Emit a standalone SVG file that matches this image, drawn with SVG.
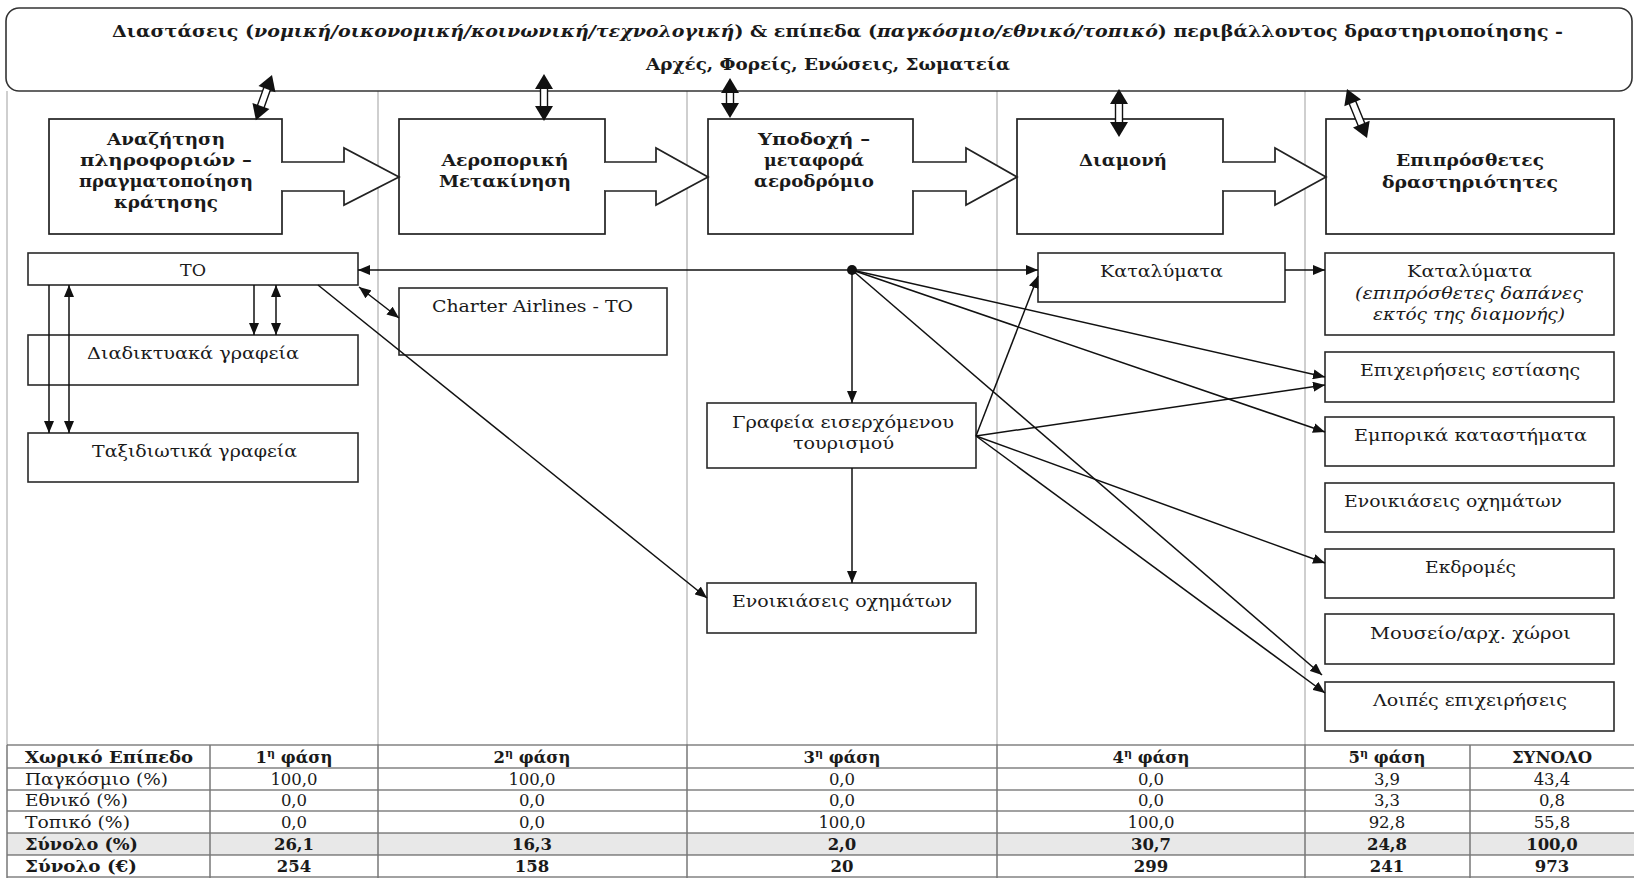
<svg xmlns="http://www.w3.org/2000/svg" width="1634" height="878" viewBox="0 0 1634 878">
<style>
.bx{fill:#fff;stroke:#2a2a2a;stroke-width:1.6}
.pb{fill:#fff;stroke:#222;stroke-width:1.7}
.col{stroke:#cfcfcf;stroke-width:2}
.t{font-family:"DejaVu Serif","Liberation Serif",serif;font-size:16px;fill:#1a1a1a}
.b{font-family:"DejaVu Serif","Liberation Serif",serif;font-size:17px;font-weight:bold;fill:#1a1a1a}
.tb{font-family:"DejaVu Serif","Liberation Serif",serif;font-size:16.5px;fill:#1a1a1a}
.tbb{font-family:"DejaVu Serif","Liberation Serif",serif;font-size:16.5px;font-weight:bold;fill:#1a1a1a}
.c{stroke:#111;stroke-width:1.5;fill:none}
.hl{stroke:#444;stroke-width:1.2}
.vl{stroke:#777;stroke-width:1.5}
</style>
<defs>
<marker id="ah" viewBox="0 0 12 10" refX="12" refY="5" markerWidth="12" markerHeight="10" markerUnits="userSpaceOnUse" orient="auto-start-reverse"><path d="M0,0 L12,5 L0,10 z" fill="#111"/></marker>
</defs>

<!-- column separators -->
<g id="columns">
<line class="col" x1="7" y1="91" x2="7" y2="745"/>
<line class="col" x1="378" y1="91" x2="378" y2="745"/>
<line class="col" x1="687" y1="91" x2="687" y2="745"/>
<line class="col" x1="997" y1="91" x2="997" y2="745"/>
<line class="col" x1="1305" y1="91" x2="1305" y2="745"/>
</g>

<g id="environment">
<rect x="6" y="8" width="1626" height="83" rx="13" fill="#fff" stroke="#333" stroke-width="1.6"/>
<text class="b" font-size="16" x="112" y="37" textLength="1451" lengthAdjust="spacingAndGlyphs">Διαστάσεις (<tspan font-style="italic">νομική/οικονομική/κοινωνική/τεχνολογική</tspan>) &amp; επίπεδα (<tspan font-style="italic">παγκόσμιο/εθνικό/τοπικό</tspan>) περιβάλλοντος δραστηριοποίησης  -</text>
<text class="b" font-size="16" x="646" y="70" textLength="364" lengthAdjust="spacingAndGlyphs">Αρχές, Φορείς, Ενώσεις, Σωματεία</text>
</g>

<!-- phase boxes -->
<g id="phase1"><rect class="pb" x="49" y="119" width="233" height="115"/>
<text class="b" text-anchor="middle" x="166" y="145" textLength="118" lengthAdjust="spacingAndGlyphs">Αναζήτηση</text>
<text class="b" text-anchor="middle" x="166" y="166" textLength="172" lengthAdjust="spacingAndGlyphs">πληροφοριών –</text>
<text class="b" text-anchor="middle" x="166" y="187" textLength="174" lengthAdjust="spacingAndGlyphs">πραγματοποίηση</text>
<text class="b" text-anchor="middle" x="166" y="208" textLength="104" lengthAdjust="spacingAndGlyphs">κράτησης</text>
</g>
<g id="phase2"><rect class="pb" x="399" y="119" width="206" height="115"/>
<text class="b" text-anchor="middle" x="505" y="166" textLength="127" lengthAdjust="spacingAndGlyphs">Αεροπορική</text>
<text class="b" text-anchor="middle" x="505" y="187" textLength="132" lengthAdjust="spacingAndGlyphs">Μετακίνηση</text>
</g>
<g id="phase3"><rect class="pb" x="708" y="119" width="205" height="115"/>
<text class="b" text-anchor="middle" x="814" y="145" textLength="112" lengthAdjust="spacingAndGlyphs">Υποδοχή –</text>
<text class="b" text-anchor="middle" x="814" y="166" textLength="100" lengthAdjust="spacingAndGlyphs">μεταφορά</text>
<text class="b" text-anchor="middle" x="814" y="187" textLength="120" lengthAdjust="spacingAndGlyphs">αεροδρόμιο</text>
</g>
<g id="phase4"><rect class="pb" x="1017" y="119" width="206" height="115"/>
<text class="b" text-anchor="middle" x="1123" y="166" textLength="88" lengthAdjust="spacingAndGlyphs">Διαμονή</text>
</g>
<g id="phase5"><rect class="pb" x="1326" y="119" width="288" height="115"/>
<text class="b" text-anchor="middle" x="1470" y="166" textLength="148" lengthAdjust="spacingAndGlyphs">Επιπρόσθετες</text>
<text class="b" text-anchor="middle" x="1470" y="188" textLength="176" lengthAdjust="spacingAndGlyphs">δραστηριότητες</text>
</g>

<!-- block arrows between phases -->
<g id="flow">
<rect x="280" y="163" width="4" height="27" fill="#fff"/>
<path d="M282,162 H344 V148 L399,177 L344,205 V191 H282" fill="#fff" stroke="#222" stroke-width="1.7"/>
<rect x="603" y="163" width="4" height="27" fill="#fff"/>
<path d="M605,162 H656 V148 L708,177 L656,205 V191 H605" fill="#fff" stroke="#222" stroke-width="1.7"/>
<rect x="911" y="163" width="4" height="27" fill="#fff"/>
<path d="M913,162 H966 V148 L1017,177 L966,205 V191 H913" fill="#fff" stroke="#222" stroke-width="1.7"/>
<rect x="1221" y="163" width="4" height="27" fill="#fff"/>
<path d="M1223,162 H1275 V148 L1326,177 L1275,205 V191 H1223" fill="#fff" stroke="#222" stroke-width="1.7"/>
</g>

<!-- double arrows to environment -->
<g id="env-links">
<g transform="translate(272,75) rotate(109.6)"><rect x="13" y="-3.5" width="22" height="7" fill="#fff" stroke="#111" stroke-width="1.4"/><polygon points="0,0 15,-9 15,9" fill="#111"/><polygon points="48,0 33,-9 33,9" fill="#111"/></g>
<g transform="translate(544,74) rotate(90)"><rect x="13" y="-3.5" width="21" height="7" fill="#fff" stroke="#111" stroke-width="1.4"/><polygon points="0,0 15,-9 15,9" fill="#111"/><polygon points="47,0 32,-9 32,9" fill="#111"/></g>
<g transform="translate(730,78) rotate(90)"><rect x="13" y="-3.5" width="14" height="7" fill="#fff" stroke="#111" stroke-width="1.4"/><polygon points="0,0 15,-9 15,9" fill="#111"/><polygon points="40,0 25,-9 25,9" fill="#111"/></g>
<g transform="translate(1119,89) rotate(90)"><rect x="13" y="-3.5" width="22" height="7" fill="#fff" stroke="#111" stroke-width="1.4"/><polygon points="0,0 15,-9 15,9" fill="#111"/><polygon points="48,0 33,-9 33,9" fill="#111"/></g>
<g transform="translate(1347,89) rotate(67.8)"><rect x="13" y="-3.5" width="27" height="7" fill="#fff" stroke="#111" stroke-width="1.4"/><polygon points="0,0 15,-9 15,9" fill="#111"/><polygon points="53,0 38,-9 38,9" fill="#111"/></g>
</g>

<!-- actor boxes -->
<g id="to"><rect class="bx" x="28" y="253" width="330" height="32"/><text class="t" text-anchor="middle" x="193" y="276" textLength="26" lengthAdjust="spacingAndGlyphs">TO</text></g>
<g id="online"><rect class="bx" x="28" y="335" width="330" height="50"/><text class="t" x="87" y="359" textLength="212" lengthAdjust="spacingAndGlyphs">Διαδικτυακά γραφεία</text></g>
<g id="agencies"><rect class="bx" x="28" y="433" width="330" height="49"/><text class="t" x="92" y="457" textLength="205" lengthAdjust="spacingAndGlyphs">Ταξιδιωτικά γραφεία</text></g>
<g id="charter"><rect class="bx" x="399" y="288" width="268" height="67"/><text class="t" x="432" y="312" textLength="201" lengthAdjust="spacingAndGlyphs">Charter Airlines - TO</text></g>
<g id="incoming"><rect class="bx" x="707" y="403" width="269" height="65"/><text class="t" x="732" y="428" textLength="222" lengthAdjust="spacingAndGlyphs">Γραφεία εισερχόμενου</text><text class="t" x="793" y="449" textLength="101" lengthAdjust="spacingAndGlyphs">τουρισμού</text></g>
<g id="rental3"><rect class="bx" x="707" y="583" width="269" height="50"/><text class="t" x="732" y="607" textLength="220" lengthAdjust="spacingAndGlyphs">Ενοικιάσεις οχημάτων</text></g>
<g id="accom4"><rect class="bx" x="1038" y="253" width="247" height="49"/><text class="t" x="1100" y="277" textLength="123" lengthAdjust="spacingAndGlyphs">Καταλύματα</text></g>
<g id="accom5"><rect class="bx" x="1325" y="253" width="289" height="82"/><text class="t" x="1407" y="277" textLength="125" lengthAdjust="spacingAndGlyphs">Καταλύματα</text><text class="t" font-style="italic" x="1355" y="299" textLength="228" lengthAdjust="spacingAndGlyphs">(επιπρόσθετες δαπάνες</text><text class="t" font-style="italic" x="1373" y="320" textLength="192" lengthAdjust="spacingAndGlyphs">εκτός της διαμονής)</text></g>
<g id="food"><rect class="bx" x="1325" y="352" width="289" height="50"/><text class="t" x="1360" y="376" textLength="220" lengthAdjust="spacingAndGlyphs">Επιχειρήσεις εστίασης</text></g>
<g id="shops"><rect class="bx" x="1325" y="417" width="289" height="49"/><text class="t" x="1354" y="441" textLength="233" lengthAdjust="spacingAndGlyphs">Εμπορικά καταστήματα</text></g>
<g id="rental5"><rect class="bx" x="1325" y="483" width="289" height="49"/><text class="t" x="1344" y="507" textLength="218" lengthAdjust="spacingAndGlyphs">Ενοικιάσεις οχημάτων</text></g>
<g id="excursions"><rect class="bx" x="1325" y="549" width="289" height="49"/><text class="t" x="1425" y="573" textLength="91" lengthAdjust="spacingAndGlyphs">Εκδρομές</text></g>
<g id="museum"><rect class="bx" x="1325" y="614" width="289" height="50"/><text class="t" x="1370" y="639" textLength="201" lengthAdjust="spacingAndGlyphs">Μουσείο/αρχ. χώροι</text></g>
<g id="other"><rect class="bx" x="1325" y="682" width="289" height="49"/><text class="t" x="1373" y="706" textLength="194" lengthAdjust="spacingAndGlyphs">Λοιπές επιχειρήσεις</text></g>

<!-- connectors -->
<g id="connectors">
<line class="c" x1="852" y1="270" x2="358" y2="270" marker-end="url(#ah)"/>
<line class="c" x1="852" y1="270" x2="1038" y2="270" marker-end="url(#ah)"/>
<line class="c" x1="852" y1="270" x2="852" y2="403" marker-end="url(#ah)"/>
<line class="c" x1="852" y1="468" x2="852" y2="583" marker-end="url(#ah)"/>
<line class="c" x1="318" y1="285" x2="707" y2="598" marker-end="url(#ah)"/>
<line class="c" x1="254" y1="285" x2="254" y2="335" marker-end="url(#ah)"/>
<line class="c" x1="276" y1="285" x2="276" y2="335" marker-start="url(#ah)" marker-end="url(#ah)"/>
<line class="c" x1="49" y1="285" x2="49" y2="433" marker-end="url(#ah)"/>
<line class="c" x1="69" y1="285" x2="69" y2="433" marker-start="url(#ah)" marker-end="url(#ah)"/>
<line class="c" x1="359" y1="287" x2="399" y2="318" marker-start="url(#ah)" marker-end="url(#ah)"/>
<line class="c" x1="852" y1="270" x2="1325" y2="377" marker-end="url(#ah)"/>
<line class="c" x1="852" y1="270" x2="1325" y2="432" marker-end="url(#ah)"/>
<line class="c" x1="852" y1="270" x2="1322" y2="675" marker-end="url(#ah)"/>
<line class="c" x1="976" y1="436" x2="1038" y2="276" marker-end="url(#ah)"/>
<line class="c" x1="976" y1="436" x2="1325" y2="385" marker-end="url(#ah)"/>
<line class="c" x1="976" y1="436" x2="1325" y2="563" marker-end="url(#ah)"/>
<line class="c" x1="976" y1="436" x2="1325" y2="693" marker-end="url(#ah)"/>
<line class="c" x1="1285" y1="270" x2="1325" y2="270" marker-end="url(#ah)"/>
<circle cx="852" cy="270" r="5" fill="#111"/>
</g>

<!-- table -->
<g id="table">
<rect x="7" y="833" width="1627" height="22" fill="#e8e8e8"/>
<line class="hl" x1="7" y1="745" x2="1634" y2="745" stroke-width="2"/>
<line class="hl" x1="7" y1="768" x2="1634" y2="768"/>
<line class="hl" x1="7" y1="790" x2="1634" y2="790"/>
<line class="hl" x1="7" y1="811" x2="1634" y2="811"/>
<line class="hl" x1="7" y1="833" x2="1634" y2="833"/>
<line class="hl" x1="7" y1="855" x2="1634" y2="855"/>
<line class="hl" x1="7" y1="877" x2="1634" y2="877"/>
<line class="vl" x1="7" y1="745" x2="7" y2="878"/>
<line class="vl" x1="210" y1="745" x2="210" y2="878"/>
<line class="vl" x1="378" y1="745" x2="378" y2="878"/>
<line class="vl" x1="687" y1="745" x2="687" y2="878"/>
<line class="vl" x1="997" y1="745" x2="997" y2="878"/>
<line class="vl" x1="1305" y1="745" x2="1305" y2="878"/>
<line class="vl" x1="1470" y1="745" x2="1470" y2="878"/>

<text class="tbb" x="25" y="763" textLength="168" lengthAdjust="spacingAndGlyphs">Χωρικό Επίπεδο</text>
<text class="tbb" text-anchor="middle" x="294" y="763">1<tspan font-size="11" dy="-6">η</tspan><tspan dy="6"> φάση</tspan></text>
<text class="tbb" text-anchor="middle" x="532" y="763">2<tspan font-size="11" dy="-6">η</tspan><tspan dy="6"> φάση</tspan></text>
<text class="tbb" text-anchor="middle" x="842" y="763">3<tspan font-size="11" dy="-6">η</tspan><tspan dy="6"> φάση</tspan></text>
<text class="tbb" text-anchor="middle" x="1151" y="763">4<tspan font-size="11" dy="-6">η</tspan><tspan dy="6"> φάση</tspan></text>
<text class="tbb" text-anchor="middle" x="1387" y="763">5<tspan font-size="11" dy="-6">η</tspan><tspan dy="6"> φάση</tspan></text>
<text class="tbb" text-anchor="middle" x="1552" y="763">ΣΥΝΟΛΟ</text>

<text class="tb" x="25" y="785" textLength="143" lengthAdjust="spacingAndGlyphs">Παγκόσμιο (%)</text>
<text class="tb" text-anchor="middle" x="294" y="785">100,0</text>
<text class="tb" text-anchor="middle" x="532" y="785">100,0</text>
<text class="tb" text-anchor="middle" x="842" y="785">0,0</text>
<text class="tb" text-anchor="middle" x="1151" y="785">0,0</text>
<text class="tb" text-anchor="middle" x="1387" y="785">3,9</text>
<text class="tb" text-anchor="middle" x="1552" y="785">43,4</text>

<text class="tb" x="25" y="806" textLength="103" lengthAdjust="spacingAndGlyphs">Εθνικό (%)</text>
<text class="tb" text-anchor="middle" x="294" y="806">0,0</text>
<text class="tb" text-anchor="middle" x="532" y="806">0,0</text>
<text class="tb" text-anchor="middle" x="842" y="806">0,0</text>
<text class="tb" text-anchor="middle" x="1151" y="806">0,0</text>
<text class="tb" text-anchor="middle" x="1387" y="806">3,3</text>
<text class="tb" text-anchor="middle" x="1552" y="806">0,8</text>

<text class="tb" x="25" y="828" textLength="105" lengthAdjust="spacingAndGlyphs">Τοπικό (%)</text>
<text class="tb" text-anchor="middle" x="294" y="828">0,0</text>
<text class="tb" text-anchor="middle" x="532" y="828">0,0</text>
<text class="tb" text-anchor="middle" x="842" y="828">100,0</text>
<text class="tb" text-anchor="middle" x="1151" y="828">100,0</text>
<text class="tb" text-anchor="middle" x="1387" y="828">92,8</text>
<text class="tb" text-anchor="middle" x="1552" y="828">55,8</text>

<text class="tbb" x="25" y="850" textLength="113" lengthAdjust="spacingAndGlyphs">Σύνολο (%)</text>
<text class="tbb" text-anchor="middle" x="294" y="850">26,1</text>
<text class="tbb" text-anchor="middle" x="532" y="850">16,3</text>
<text class="tbb" text-anchor="middle" x="842" y="850">2,0</text>
<text class="tbb" text-anchor="middle" x="1151" y="850">30,7</text>
<text class="tbb" text-anchor="middle" x="1387" y="850">24,8</text>
<text class="tbb" text-anchor="middle" x="1552" y="850">100,0</text>

<text class="tbb" x="25" y="872" textLength="112" lengthAdjust="spacingAndGlyphs">Σύνολο (€)</text>
<text class="tbb" text-anchor="middle" x="294" y="872">254</text>
<text class="tbb" text-anchor="middle" x="532" y="872">158</text>
<text class="tbb" text-anchor="middle" x="842" y="872">20</text>
<text class="tbb" text-anchor="middle" x="1151" y="872">299</text>
<text class="tbb" text-anchor="middle" x="1387" y="872">241</text>
<text class="tbb" text-anchor="middle" x="1552" y="872">973</text>
</g>
</svg>
